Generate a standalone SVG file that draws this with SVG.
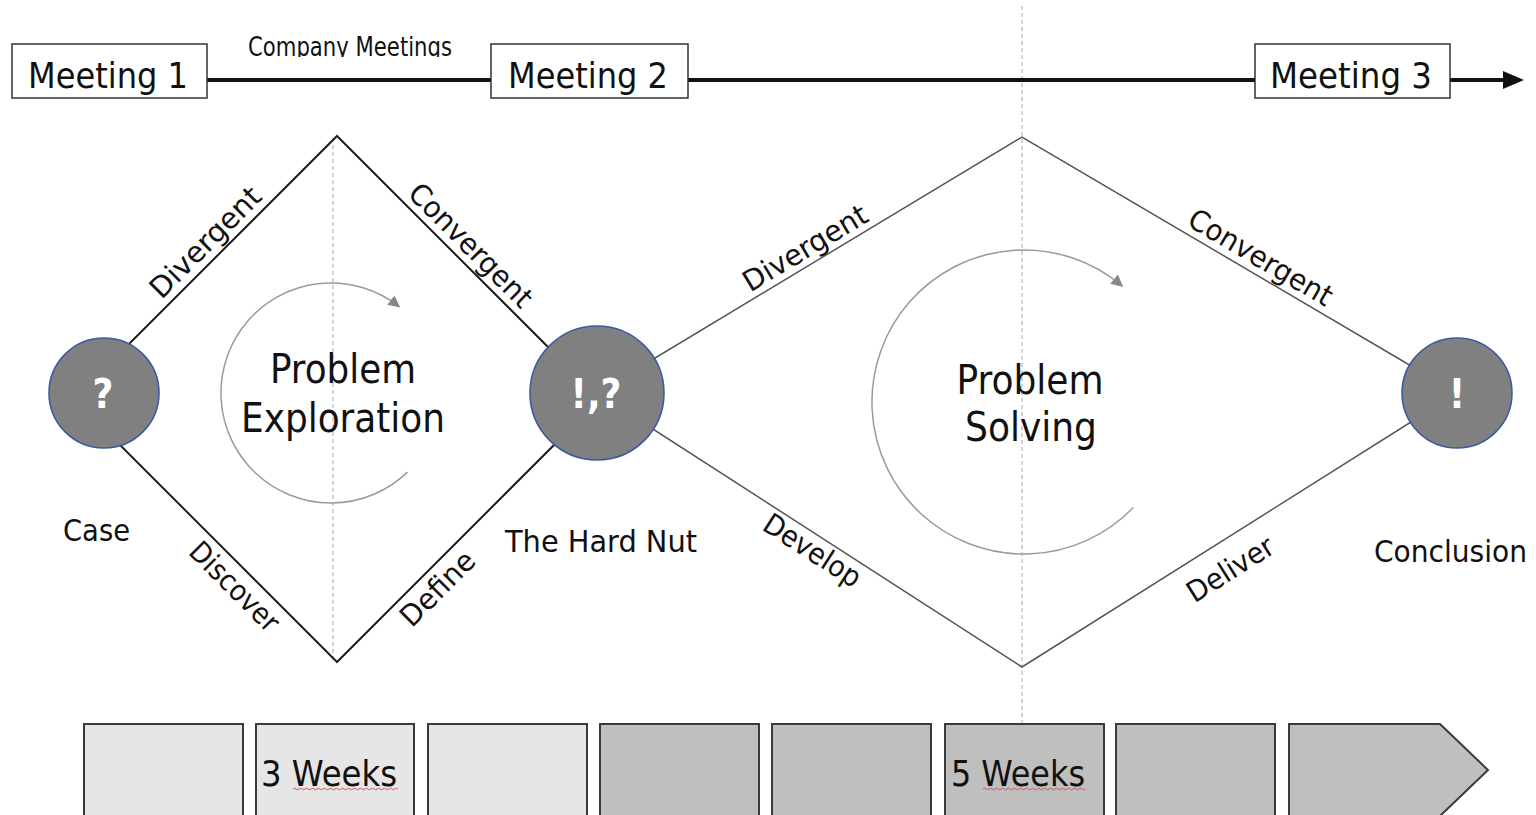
<svg xmlns="http://www.w3.org/2000/svg" width="1536" height="815" viewBox="0 0 1536 815">
<style>
.t{font-family:"DejaVu Sans Condensed","Liberation Sans Narrow","Noto Sans",sans-serif;fill:#111}
.box{fill:#fff;stroke:#333;stroke-width:1.5}
.d1{stroke:#1e1e1e;stroke-width:2;fill:none}
.d2{stroke:#555;stroke-width:1.5;fill:none}
.dash{stroke:#b8b8b8;stroke-width:1.2;stroke-dasharray:4 3;fill:none}
.cyc{stroke:#9a9a9a;stroke-width:1.5;fill:none}
.node{fill:#808080;stroke:#3b5ba0;stroke-width:1.6}
.nt{font-family:"DejaVu Sans Condensed","Liberation Sans","Noto Sans",sans-serif;fill:#fff;font-weight:bold;text-anchor:middle}
.lt{fill:#e6e6e6;stroke:#3a3a3a;stroke-width:2}
.dk{fill:#bfbfbf;stroke:#3a3a3a;stroke-width:2}
.lbl{font-size:29px}
</style>
<defs>
<marker id="cyc" markerWidth="14" markerHeight="12" refX="10" refY="6" orient="auto" markerUnits="userSpaceOnUse">
<path d="M0,0 L12,6 L0,12 Z" fill="#888"/>
</marker>
<clipPath id="cm"><rect x="200" y="20" width="300" height="37"/></clipPath>
</defs>

<g id="guides">
<line class="dash" x1="1022" y1="6" x2="1022" y2="724"/>
<line class="dash" x1="333" y1="138" x2="333" y2="660"/>
</g>

<g id="connectors">
<line x1="207" y1="80" x2="1506" y2="80" stroke="#111" stroke-width="4"/>
<path d="M1503,71 L1524,80 L1503,89 Z" fill="#111"/>
<path class="d1" d="M95,378 L337,136 L590,389"/>
<path class="d1" d="M90,415 L337,662 L600,399"/>
<path class="d2" d="M597,393 L1022,137 L1457,393"/>
<path class="d2" d="M597,393 L1022,667 L1457,393"/>
<path class="cyc" d="M407.4,472.1 A110,110 0 1 1 398.7,306.3" marker-end="url(#cyc)"/>
<path class="cyc" d="M1133.3,507.6 A152,152 0 1 1 1121.7,285.6" marker-end="url(#cyc)"/>
</g>

<g id="meeting1"><rect class="box" x="12" y="44" width="195" height="54"/><text class="t" x="28" y="88" font-size="36" textLength="160" lengthAdjust="spacingAndGlyphs">Meeting 1</text></g>
<g id="meeting2"><rect class="box" x="491" y="44" width="197" height="54"/><text class="t" x="508" y="88" font-size="36" textLength="160" lengthAdjust="spacingAndGlyphs">Meeting 2</text></g>
<g id="meeting3"><rect class="box" x="1255" y="44" width="195" height="54"/><text class="t" x="1270" y="88" font-size="36" textLength="162" lengthAdjust="spacingAndGlyphs">Meeting 3</text></g>
<g id="company-meetings" clip-path="url(#cm)"><text class="t" x="248" y="56" font-size="26" textLength="204" lengthAdjust="spacingAndGlyphs">Company Meetings</text></g>

<g id="labels">
<text class="t lbl" text-anchor="middle" transform="translate(218,255) rotate(-45)" y="-8" textLength="144" lengthAdjust="spacingAndGlyphs">Divergent</text>
<text class="t lbl" text-anchor="middle" transform="translate(458,258) rotate(45)" y="-8" textLength="162" lengthAdjust="spacingAndGlyphs">Convergent</text>
<text class="t lbl" text-anchor="middle" transform="translate(248,573) rotate(45)" y="29" textLength="114" lengthAdjust="spacingAndGlyphs">Discover</text>
<text class="t lbl" text-anchor="middle" transform="translate(424,575) rotate(-45)" y="29" textLength="93" lengthAdjust="spacingAndGlyphs">Define</text>
<text class="t lbl" text-anchor="middle" transform="translate(813.8,262.6) rotate(-31)" y="-7" textLength="140" lengthAdjust="spacingAndGlyphs">Divergent</text>
<text class="t lbl" text-anchor="middle" transform="translate(1252,272) rotate(30.5)" y="-7" textLength="162" lengthAdjust="spacingAndGlyphs">Convergent</text>
<text class="t lbl" text-anchor="middle" transform="translate(821,537) rotate(32.8)" y="26" textLength="110" lengthAdjust="spacingAndGlyphs">Develop</text>
<text class="t lbl" text-anchor="middle" transform="translate(1228,541) rotate(-32.2)" x="-13" y="35" textLength="97" lengthAdjust="spacingAndGlyphs">Deliver</text>
</g>

<g id="phase1-title">
<text class="t" x="343" y="383" font-size="40" text-anchor="middle" textLength="146" lengthAdjust="spacingAndGlyphs">Problem</text>
<text class="t" x="343" y="432" font-size="40" text-anchor="middle" textLength="204" lengthAdjust="spacingAndGlyphs">Exploration</text>
</g>
<g id="phase2-title">
<text class="t" x="1030" y="394" font-size="40" text-anchor="middle" textLength="147" lengthAdjust="spacingAndGlyphs">Problem</text>
<text class="t" x="1031" y="441" font-size="40" text-anchor="middle" textLength="132" lengthAdjust="spacingAndGlyphs">Solving</text>
</g>

<g id="node-case">
<circle class="node" cx="104" cy="393" r="55"/>
<text class="nt" x="103" y="408" font-size="40">?</text>
<text class="t" x="63" y="541" font-size="31" textLength="67" lengthAdjust="spacingAndGlyphs">Case</text>
</g>
<g id="node-hardnut">
<circle class="node" cx="597" cy="393" r="67"/>
<text class="nt" x="596" y="408" font-size="40">!,?</text>
<text class="t" x="505" y="552" font-size="31" textLength="192" lengthAdjust="spacingAndGlyphs">The Hard Nut</text>
</g>
<g id="node-conclusion">
<circle class="node" cx="1457" cy="393" r="55"/>
<text class="nt" x="1457" y="408" font-size="40">!</text>
<text class="t" x="1374" y="562" font-size="31" textLength="153" lengthAdjust="spacingAndGlyphs">Conclusion</text>
</g>

<g id="weeks">
<rect class="lt" x="84" y="724" width="159" height="110"/>
<rect class="lt" x="256" y="724" width="158" height="110"/>
<rect class="lt" x="428" y="724" width="159" height="110"/>
<rect class="dk" x="600" y="724" width="159" height="110"/>
<rect class="dk" x="772" y="724" width="159" height="110"/>
<rect class="dk" x="945" y="724" width="159" height="110"/>
<rect class="dk" x="1116" y="724" width="159" height="110"/>
<path class="dk" d="M1289,724 L1440,724 L1488,770 L1440,816 L1440,834 L1289,834 Z"/>
<text class="t" x="261" y="786" font-size="36" textLength="136" lengthAdjust="spacingAndGlyphs">3 Weeks</text>
<text class="t" x="951" y="786" font-size="36" textLength="134" lengthAdjust="spacingAndGlyphs">5 Weeks</text>
<path d="M293,789 q1.5,-1.5 3,0 t3,0 t3,0 t3,0 t3,0 t3,0 t3,0 t3,0 t3,0 t3,0 t3,0 t3,0 t3,0 t3,0 t3,0 t3,0 t3,0 t3,0 t3,0 t3,0 t3,0 t3,0 t3,0 t3,0 t3,0 t3,0 t3,0 t3,0 t3,0 t3,0 t3,0 t3,0 t3,0 t3,0 t3,0" fill="none" stroke="#e05050" stroke-width="1"/>
<path d="M983,789 q1.5,-1.5 3,0 t3,0 t3,0 t3,0 t3,0 t3,0 t3,0 t3,0 t3,0 t3,0 t3,0 t3,0 t3,0 t3,0 t3,0 t3,0 t3,0 t3,0 t3,0 t3,0 t3,0 t3,0 t3,0 t3,0 t3,0 t3,0 t3,0 t3,0 t3,0 t3,0 t3,0 t3,0 t3,0 t3,0" fill="none" stroke="#e05050" stroke-width="1"/>
</g>
</svg>
